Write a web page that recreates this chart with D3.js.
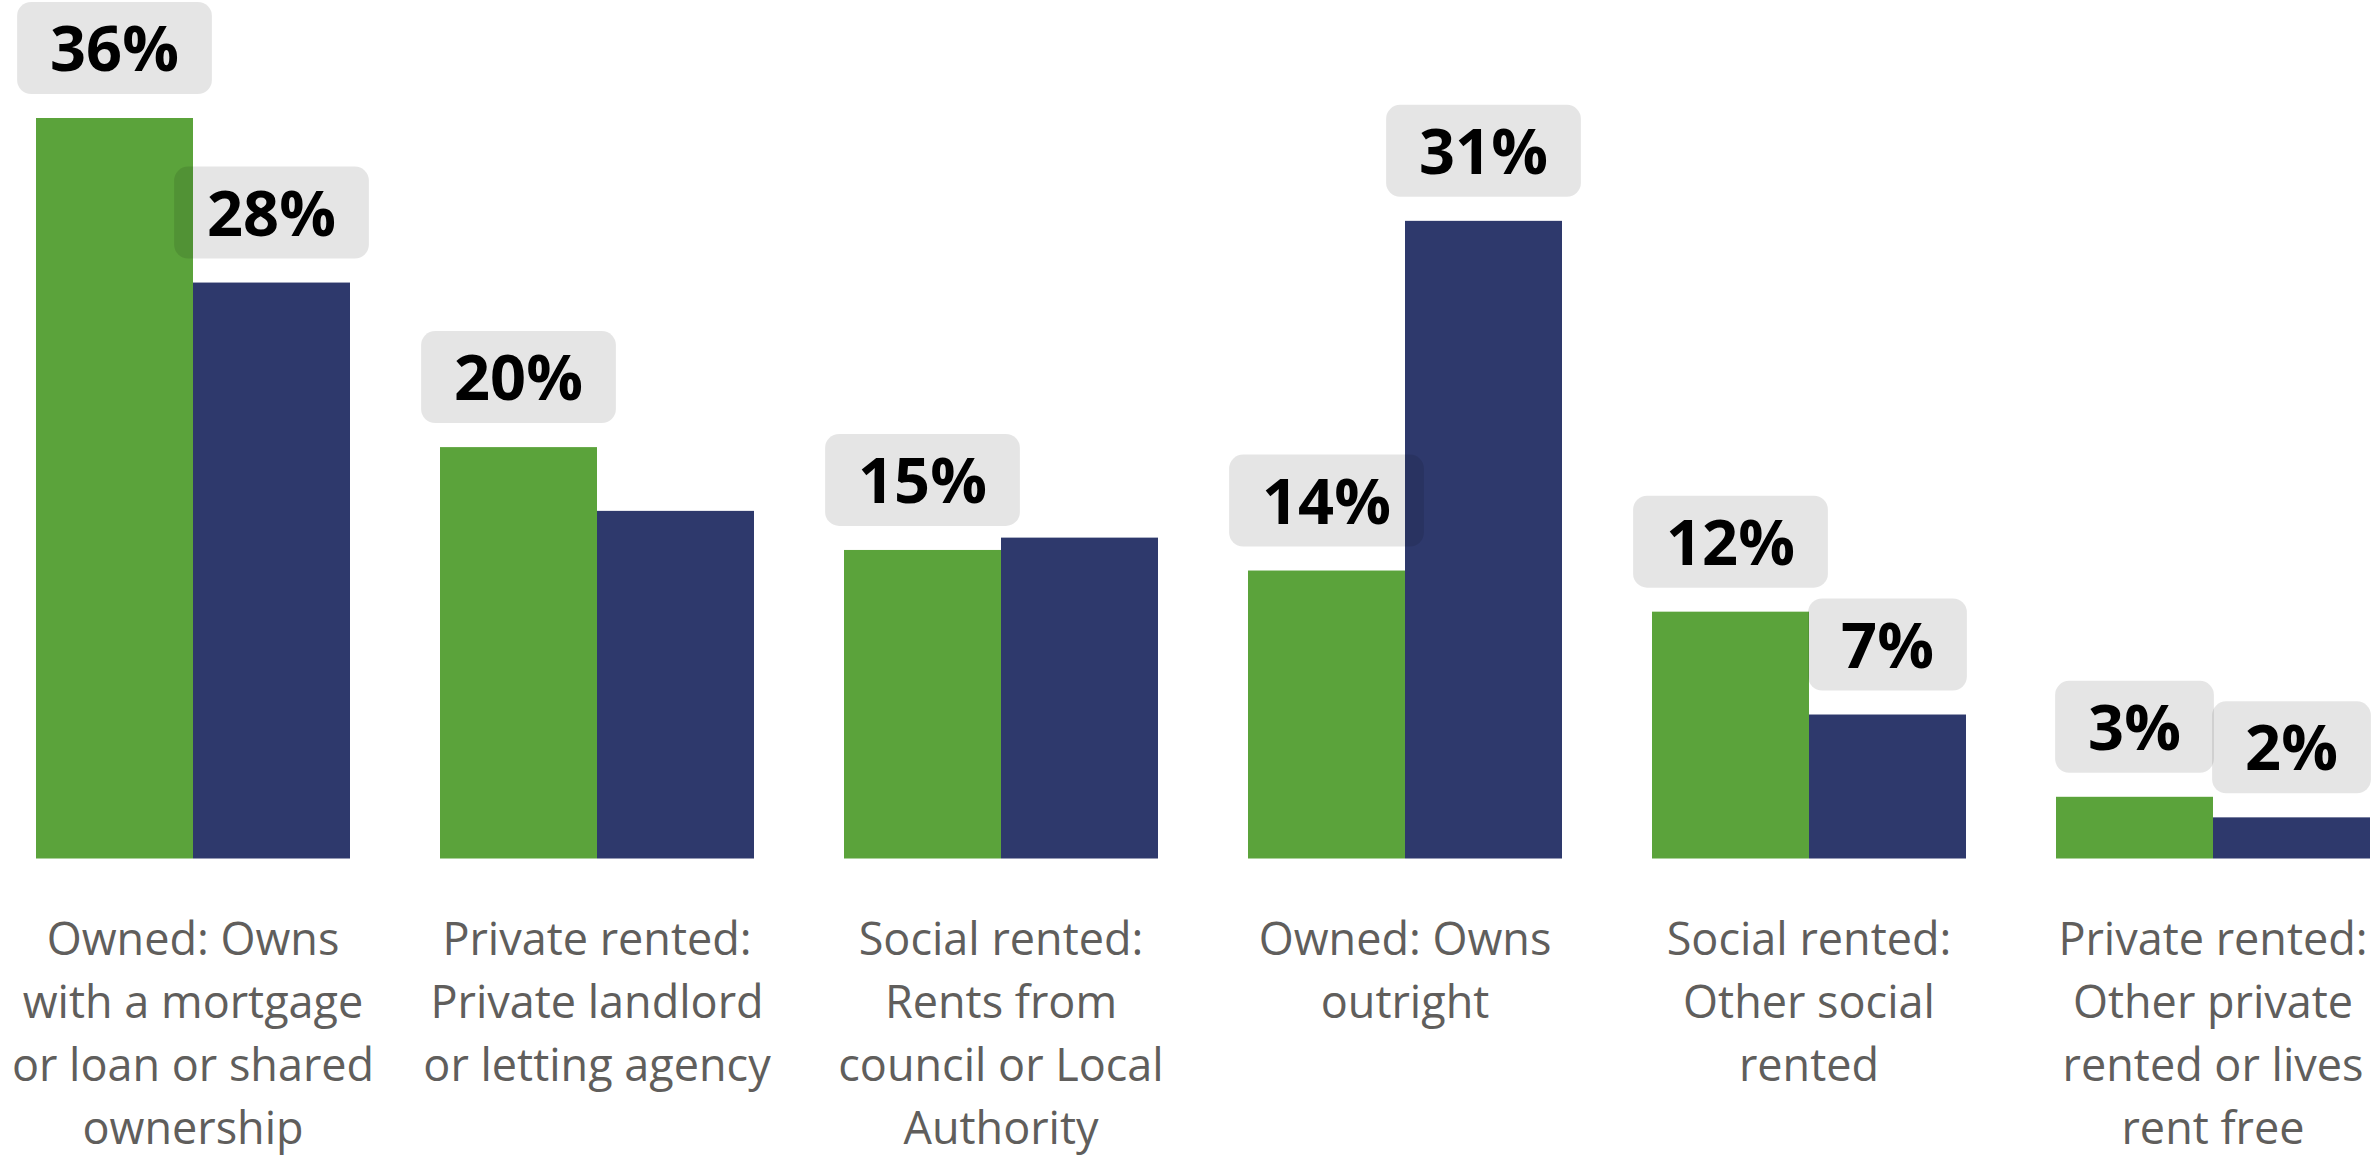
<!DOCTYPE html>
<html>
<head>
<meta charset="utf-8">
<script src="https://cdn.jsdelivr.net/npm/d3@7"></script>
<style>
  html, body { margin: 0; padding: 0; background: #ffffff; }
  svg { display: block; }
</style>
</head>
<body>
<svg id="chart" width="2374" height="1158"></svg>
<script>
// Tenure categories (line breaks as shown under each group)
const categories = [
  "Owned: Owns\nwith a mortgage\nor loan or shared\nownership",
  "Private rented:\nPrivate landlord\nor letting agency",
  "Social rented:\nRents from\ncouncil or Local\nAuthority",
  "Owned: Owns\noutright",
  "Social rented:\nOther social\nrented",
  "Private rented:\nOther private\nrented or lives\nrent free"
];

// Percentages for the two series
const seriesOne = [36, 20, 15, 14, 12, 3];
const seriesTwo = [28, 16.9, 15.6, 31, 7, 2];

// Which bars carry a value label
const labelsOne = [true, true, true, true, true, true];
const labelsTwo = [true, false, false, true, true, true];

const seriesKeys = ["one", "two"];
const seriesColors = ["#5ba33b", "#2e396c"];

const W = 2374, H = 1158;
const baseY = 858.5;
const svg = d3.select("#chart");

const x = d3.scaleBand()
  .domain(categories)
  .range([-9, 2415])
  .paddingInner(90 / 404)
  .paddingOuter(45 / 404);

const xInner = d3.scaleBand()
  .domain(seriesKeys)
  .range([0, x.bandwidth()]);

const y = d3.scaleLinear()
  .domain([0, 36])
  .range([baseY, 118]);

const color = d3.scaleOrdinal().domain(seriesKeys).range(seriesColors);

const rows = categories.map((c, i) => ({
  category: c,
  values: [
    { key: "one", value: seriesOne[i], label: labelsOne[i] },
    { key: "two", value: seriesTwo[i], label: labelsTwo[i] }
  ]
}));

// Bars
const groups = svg.append("g").attr("class", "bars")
  .selectAll("g")
  .data(rows)
  .join("g")
  .attr("transform", d => `translate(${x(d.category)},0)`);

groups.selectAll("rect")
  .data(d => d.values)
  .join("rect")
  .attr("x", d => xInner(d.key))
  .attr("y", d => y(d.value))
  .attr("width", xInner.bandwidth())
  .attr("height", d => y(0) - y(d.value))
  .attr("fill", d => color(d.key));

// Value labels on translucent rounded boxes, drawn above every bar
const labelData = [];
rows.forEach(r => r.values.forEach(v => {
  if (v.label) labelData.push({ category: r.category, key: v.key, value: v.value });
}));

const fmt = v => d3.format(".0f")(v) + "%";
const boxH = 92, gap = 24, padX = 33, fontSize = 63;

const labels = svg.append("g").attr("class", "labels")
  .selectAll("g")
  .data(labelData)
  .join("g")
  .attr("transform", d => {
    const cx = x(d.category) + xInner(d.key) + xInner.bandwidth() / 2;
    const cy = y(d.value) - gap - boxH / 2;
    return `translate(${cx},${cy})`;
  });

labels.append("rect").attr("class", "box");
labels.append("text")
  .attr("text-anchor", "middle")
  .attr("y", 23)
  .attr("font-family", "'Open Sans', 'Noto Sans', sans-serif")
  .attr("font-weight", 700)
  .attr("font-size", fontSize)
  .attr("fill", "#000000")
  .text(d => fmt(d.value));

labels.each(function () {
  const g = d3.select(this);
  const tw = g.select("text").node().getComputedTextLength();
  const bw = tw + padX * 2;
  g.select("rect")
    .attr("x", -bw / 2)
    .attr("y", -boxH / 2)
    .attr("width", bw)
    .attr("height", boxH)
    .attr("rx", 14)
    .attr("ry", 14)
    .attr("fill", "rgba(0,0,0,0.1)");
});

// Category axis
const axis = svg.append("g")
  .attr("class", "x-axis")
  .attr("transform", `translate(0,${baseY})`)
  .call(d3.axisBottom(x).tickSize(0).tickSizeOuter(0));

axis.select(".domain").remove();

axis.selectAll(".tick text")
  .attr("font-family", "'Open Sans', 'Noto Sans', sans-serif")
  .attr("font-size", 45)
  .attr("fill", "#605e5c")
  .attr("dy", null)
  .attr("y", 0)
  .each(function (d) {
    const t = d3.select(this);
    t.text(null);
    d.split("\n").forEach((line, i) => {
      t.append("tspan")
        .attr("x", 0)
        .attr("y", 96 + i * 63.2)
        .text(line);
    });
  });
</script>
</body>
</html>
